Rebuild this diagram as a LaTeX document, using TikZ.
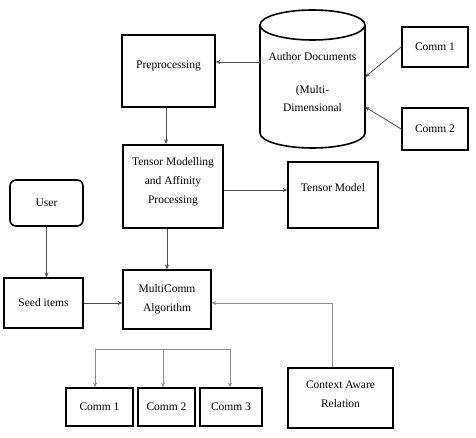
\documentclass[tikz,border=0pt]{standalone}
\usepackage{fontspec}
\setmainfont{Liberation Serif}
\usetikzlibrary{arrows.meta}
\begin{document}
\begin{tikzpicture}[x=1pt,y=-1pt,
  box/.style={draw=black,line width=1.6pt,fill=white,inner sep=1pt,align=center,font=\fontsize{11.5}{19}\selectfont},
  arr/.style={draw=black!70,line width=0.8pt,-{Stealth[length=4.5pt,width=4pt]}},
  garr/.style={draw=black!45,line width=1pt,-{Stealth[length=4.5pt,width=4pt]}},
  gline/.style={draw=black!45,line width=1pt}]
\useasboundingbox (0,0) rectangle (476,438);
% cylinder
\node[minimum width=105pt,minimum height=138pt,inner sep=0pt] (db) at (312.5,79) {};
\draw[line width=1.6pt,fill=white] (260,25) -- (260,133) arc[start angle=180,end angle=0,x radius=52.5,y radius=15] -- (365,25);
\draw[line width=1.6pt] (312.5,25) ellipse[x radius=52.5,y radius=15];
\node[align=center,font=\fontsize{11.5}{18}\selectfont] (dbt) at (312.5,82) {Author Documents\\[15pt](Multi-\\Dimensional};
% boxes
\node[box,minimum width=93pt,minimum height=72pt] (pre) at (168.5,71) {Preprocessing\\[-7pt]};
\node[box,minimum width=66pt,minimum height=40pt] (ca) at (435,47) {Comm 1};
\node[box,minimum width=66pt,minimum height=42pt] (cb) at (435,129) {Comm 2};
\node[box,line width=2.2pt,minimum width=100pt,minimum height=83pt] (tm) at (173,186.5) {Tensor Modelling\\and Affinity\\Processing\\[-8pt]};
\node[box,minimum width=90pt,minimum height=66pt] (tmod) at (333,195) {Tensor Model\\[-5pt]};
\node[box,rounded corners=6pt,minimum width=73pt,minimum height=46pt] (user) at (46.5,203) {User};
\node[box,minimum width=79pt,minimum height=50pt] (seed) at (43.5,303) {Seed items};
\node[box,minimum width=88pt,minimum height=59pt] (mc) at (167,299.5) {MultiComm\\Algorithm};
\node[box,minimum width=105pt,minimum height=60pt] (ctx) at (340.5,398) {Context Aware\\Relation\\[-11pt]};
\node[box,minimum width=67pt,minimum height=38pt] (c1) at (99.5,407) {Comm 1};
\node[box,minimum width=57pt,minimum height=38pt] (c2) at (166.5,407) {Comm 2};
\node[box,minimum width=62pt,minimum height=38pt] (c3) at (231,407) {Comm 3};
% connectors
\coordinate (dbl) at (260,62);
\draw[arr] (dbl) -- (dbl -| pre.east);
\draw[arr] (ca.west) -- ([yshift=2pt]db.east);
\draw[arr] (cb.west) -- ([yshift=-28pt]db.east);
\draw[arr] ([xshift=-2.5pt]pre.south) -- ([xshift=-2.5pt]pre.south |- tm.north);
\draw[arr] ([yshift=-3.5pt]tm.east) -- ([yshift=-3.5pt]tm.east -| tmod.west);
\draw[arr] (mc.north |- tm.south) -- (mc.north);
\draw[arr] (user.south) -- (user.south |- seed.north);
\draw[arr] (seed.east) -- (seed.east -| mc.west);
\draw[garr] ([xshift=-8.5pt]ctx.north) |- ([yshift=-3.5pt]mc.east);
\coordinate (bl) at (95,349);
\coordinate (bm) at (163,349);
\coordinate (br) at (230,349);
\draw[gline] (bl) -- (br);
\draw[garr] (bl) -- (bl |- c1.north);
\draw[garr] (bm) -- (bm |- c2.north);
\draw[garr] (br) -- (br |- c3.north);
\end{tikzpicture}
\end{document}
